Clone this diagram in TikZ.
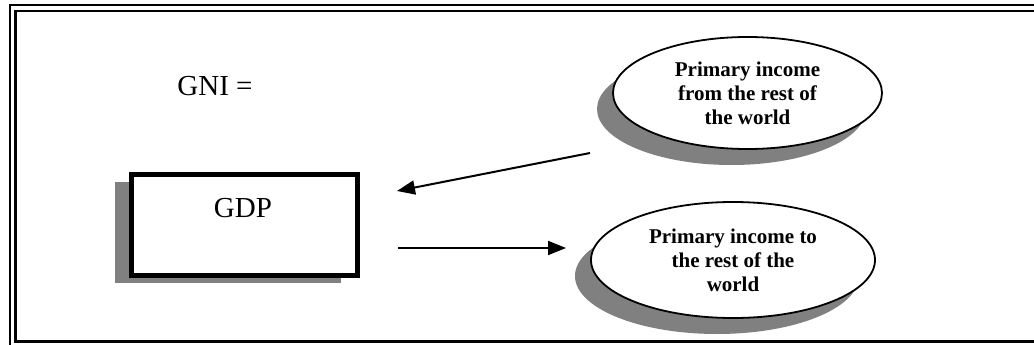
\documentclass[tikz,border=0pt]{standalone}
\usepackage{fontspec}
\setmainfont{Liberation Serif}
\usetikzlibrary{shapes.geometric,arrows.meta}
\tikzset{
  shadowfill/.style={fill={rgb,255:red,128;green,128;blue,128}, draw=none},
  oval/.style={ellipse, draw=black, line width=1.8pt, fill=white, inner sep=0pt, align=center,
    font=\fontsize{21}{24}\selectfont\bfseries},
  ovalshadow/.style={ellipse, shadowfill, inner sep=0pt},
  gdpbox/.style={draw=black, line width=5pt, fill=white, inner sep=0pt},
  plaintext/.style={font=\fontsize{29}{33}\selectfont},
  flow/.style={line width=2pt, -{Triangle[length=18pt,width=14pt]}},
}
\begin{document}
\begin{tikzpicture}[x=1pt,y=-1pt]
\useasboundingbox (0,0) rectangle (1034,345);
\begin{scope}
\clip (0,0) rectangle (1034,345);
% outer double frame
\draw[line width=1.2pt] (10,5) rectangle (1060,350);
\draw[line width=2.8pt] (15.5,11) rectangle (1055,341.5);
\end{scope}

% GDP box with shadow
\node[shadowfill, minimum width=226pt, minimum height=101pt, inner sep=0pt] (gdpsh) at (228,232) {};
\node[gdpbox, minimum width=226pt, minimum height=101pt] (gdp) at (244,224.5) {};
\node[plaintext] (gdptxt) at (243,208) {GDP};

% GNI text
\node[plaintext] (gni) at (215,86) {GNI =};

% top ellipse
\node[ovalshadow, minimum width=269pt, minimum height=112pt] (fromsh) at (731.5,109) {};
\node[oval, minimum width=269pt, minimum height=112pt] (from) at (747.5,93)
  {Primary income\\from the rest of\\the world};

% bottom ellipse
\node[ovalshadow, minimum width=284pt, minimum height=116pt] (tosh) at (717,276) {};
\node[oval, minimum width=284pt, minimum height=116pt] (to) at (733,260)
  {Primary income to\\the rest of the\\world};

% arrows
\coordinate (a1s) at (590,153);
\coordinate (a1e) at (397,191);
\coordinate (a2s) at (398,248);
\coordinate (a2e) at (566,248);
\draw[flow] (a1s) -- (a1e);
\draw[flow] (a2s) -- (a2e);
\end{tikzpicture}
\end{document}
